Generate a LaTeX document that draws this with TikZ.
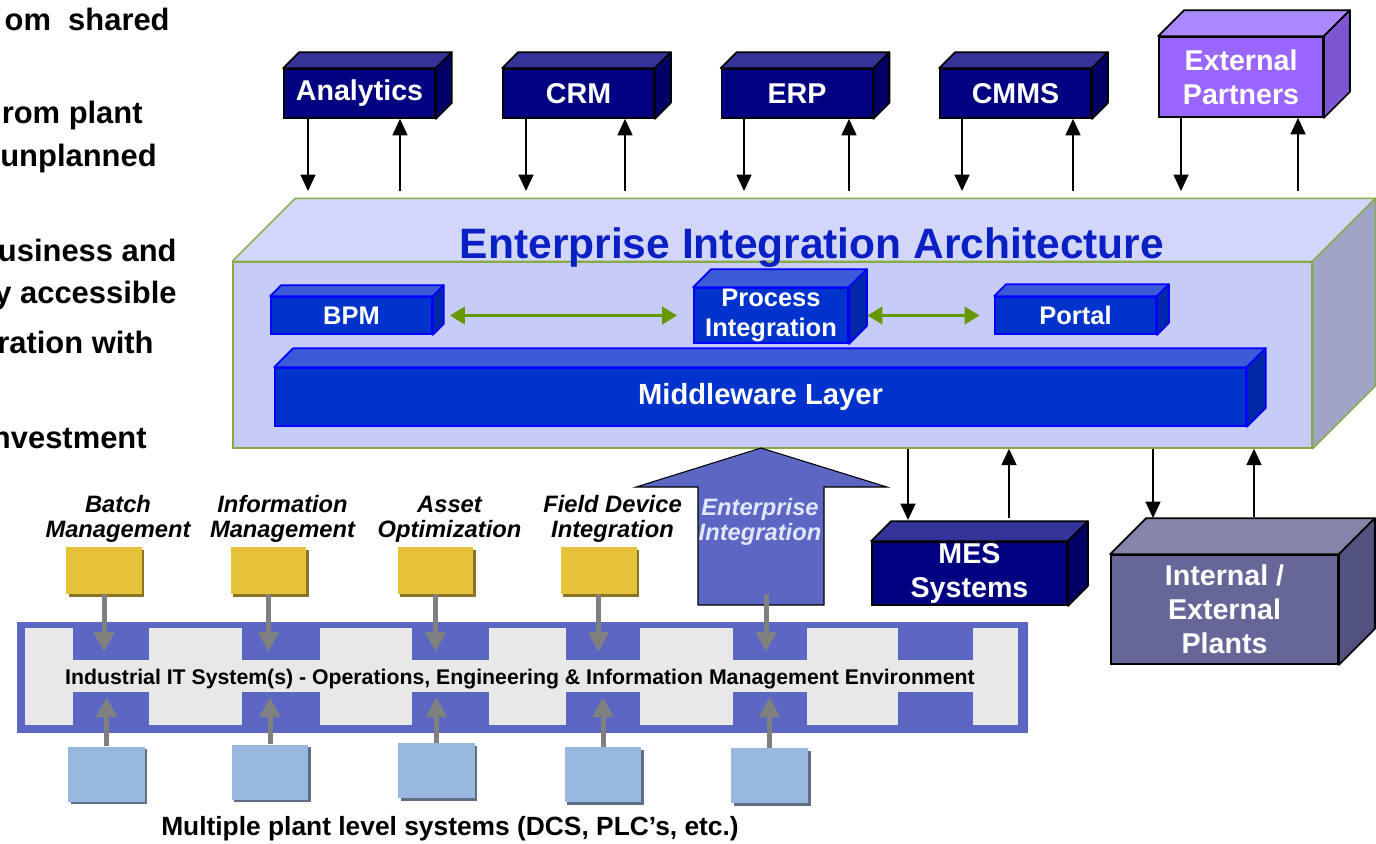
\documentclass[tikz,border=0pt]{standalone}
\usepackage{fontspec}
\setmainfont{Liberation Sans}
\usetikzlibrary{arrows.meta,positioning,shadows}

\definecolor{navy}{HTML}{000080}
\definecolor{navytop}{HTML}{333399}
\definecolor{navyside}{HTML}{000066}
\definecolor{partner}{HTML}{9966FF}
\definecolor{partnertop}{HTML}{AA88FF}
\definecolor{partnerside}{HTML}{7F55D4}
\definecolor{eiafront}{HTML}{C6CBF8}
\definecolor{eiatop}{HTML}{D2D6FA}
\definecolor{eiaside}{HTML}{A0A5C8}
\definecolor{eialine}{HTML}{88AA44}
\definecolor{titleblue}{HTML}{0A20C4}
\definecolor{inblue}{HTML}{0033CC}
\definecolor{inbluetop}{HTML}{3A5AD6}
\definecolor{inblueside}{HTML}{0028A8}
\definecolor{inblueline}{HTML}{0000FF}
\definecolor{arrowgreen}{HTML}{669900}
\definecolor{plantfront}{HTML}{666699}
\definecolor{planttop}{HTML}{8686AA}
\definecolor{plantside}{HTML}{525280}
\definecolor{bandblue}{HTML}{5C67C4}
\definecolor{bandgrey}{HTML}{E8E8E8}
\definecolor{ayellow}{HTML}{E6C13A}
\definecolor{ayellowdark}{HTML}{8B7326}
\definecolor{sqblue}{HTML}{99B8E0}
\definecolor{sqbluedark}{HTML}{5F6F85}
\definecolor{arrowgrey}{HTML}{808080}
\definecolor{eitext}{HTML}{E2E6FF}

\tikzstyle{navybox}=[draw=black, fill=navy, text=white, line width=1pt, inner sep=0pt, align=center, font=\fontsize{16.3}{19.3}\selectfont\bfseries]
\tikzstyle{inbox}=[draw=inblueline, fill=inblue, text=white, line width=1pt, inner sep=0pt, align=center, font=\fontsize{14.5}{17}\selectfont\bfseries]
\tikzstyle{ybox}=[fill=ayellow, minimum width=1.52cm, minimum height=0.94cm, inner sep=0pt, general shadow={fill=ayellowdark, shadow xshift=0.05cm, shadow yshift=-0.05cm}]
\tikzstyle{sqbox}=[fill=sqblue, minimum width=1.54cm, minimum height=1.1cm, inner sep=0pt, general shadow={fill=sqbluedark, shadow xshift=0.05cm, shadow yshift=-0.05cm}]
\tikzstyle{lbl}=[inner sep=0pt, align=center, font=\fontsize{13.5}{14.2}\selectfont\bfseries\itshape]
\tikzstyle{slidetxt}=[inner sep=0pt, anchor=base east, font=\fontsize{17.6}{20}\selectfont\bfseries]
\tikzstyle{blkarrow}=[-{Triangle[width=0.3cm,length=0.33cm]}, color=black, line width=1pt]
\tikzstyle{grnarrow}=[{Triangle[width=0.34cm,length=0.3cm]}-{Triangle[width=0.34cm,length=0.3cm]}, color=arrowgreen, line width=2.2pt]
\tikzstyle{greyarrow}=[-{Triangle[width=0.4cm,length=0.4cm]}, color=arrowgrey, line width=0.1cm]

\newcommand{\cubeside}[5]{%
  \draw[#5, fill=#3, line join=round] (#1.north west) -- ++(#2,-#2) -- ([shift={(#2,-#2)}]#1.north east) -- (#1.north east) -- cycle;
  \draw[#5, fill=#4, line join=round] (#1.north east) -- ++(#2,-#2) -- ([shift={(#2,-#2)}]#1.south east) -- (#1.south east) -- cycle;
}

\begin{document}
\begin{tikzpicture}[x=0.02cm, y=-0.02cm]
	\useasboundingbox (0,0) rectangle (1376,843);

	\begin{scope}
		\node (s1) at (170,30) [slidetxt] {om\ \ shared};
		\node (s2) at (143,123) [slidetxt] {rom plant};
		\node (s3) at (157,166) [slidetxt] {unplanned};
		\node (s4) at (177,261) [slidetxt] {usiness and};
		\node (s5) at (177,303) [slidetxt] {y accessible};
		\node (s6) at (154,353) [slidetxt] {ration with};
		\node (s7) at (147,448) [slidetxt] {nvestment};
	\end{scope}

	\begin{scope}
		\foreach \n/\x/\t in {an/359.5/Analytics, crm/578.5/CRM, erp/797/ERP, cmms/1015.5/CMMS} {
			\node (\n) at (\x,93.5) [navybox, minimum width=3.02cm, minimum height=0.98cm] {\t};
			\cubeside{\n}{16}{navytop}{navyside}{draw=black, line width=1pt}
		}
		\node (ext) at (1241,77) [navybox, fill=partner, minimum width=3.28cm, minimum height=1.6cm] {External\\Partners};
		\cubeside{ext}{26}{partnertop}{partnerside}{draw=black, line width=1pt}
	\end{scope}

	\begin{scope}
		\node (eia) at (772.5,355) [draw=eialine, fill=eiafront, line width=0.8pt, minimum width=21.58cm, minimum height=3.72cm] {};
		\cubeside{eia}{63}{eiatop}{eiaside}{draw=eialine, line width=0.8pt}
		\node (title) at (812,258) [anchor=base, inner sep=0pt, text=titleblue, font=\fontsize{24.2}{28}\selectfont\bfseries] {Enterprise Integration Architecture};

		\node (bpm) at (351.5,315.5) [inbox, minimum width=3.22cm, minimum height=0.74cm] {BPM};
		\cubeside{bpm}{11}{inbluetop}{inblueside}{draw=inblueline, line width=1pt}
		\node (pi) at (771,315.5) [inbox, minimum width=3.08cm, minimum height=1.1cm] {Process\\Integration};
		\cubeside{pi}{18}{inbluetop}{inblueside}{draw=inblueline, line width=1pt}
		\node (portal) at (1075.5,315.5) [inbox, minimum width=3.22cm, minimum height=0.74cm] {Portal};
		\cubeside{portal}{12}{inbluetop}{inblueside}{draw=inblueline, line width=1pt}
		\node (mw) at (760.5,397) [inbox, minimum width=19.42cm, minimum height=1.16cm, font=\fontsize{16.6}{19}\selectfont\bfseries] {Middleware Layer};
		\cubeside{mw}{19}{inbluetop}{inblueside}{draw=inblueline, line width=1pt}
	\end{scope}

	\begin{scope}
		\path [grnarrow, shorten <=0.34cm, shorten >=0.32cm] (bpm.east) edge (pi.west);
		\path [grnarrow, shorten <=0.37cm, shorten >=0.29cm] (pi.east) edge (portal.west);
		\foreach \n/\d/\u in {an/308/400, crm/526/625, erp/744/849, cmms/962/1073, ext/1181/1298} {
			\coordinate (d\n) at (\d,191);
			\coordinate (u\n) at (\u,191);
			\path [blkarrow] (\n.south -| d\n) edge (d\n);
			\path [blkarrow] (u\n) edge (\n.south -| u\n);
		}
	\end{scope}

	\begin{scope}
		\node (mes) at (969.5,573.5) [navybox, minimum width=3.9cm, minimum height=1.26cm] {MES\\Systems};
		\cubeside{mes}{20}{navytop}{navyside}{draw=black, line width=1pt}
		\node (plants) at (1224.5,609.5) [navybox, fill=plantfront, minimum width=4.54cm, minimum height=2.18cm] {Internal /\\External\\Plants};
		\cubeside{plants}{36}{planttop}{plantside}{draw=black, line width=1pt}
		\coordinate (m1) at (908,520);
		\coordinate (m2) at (1009,518);
		\coordinate (p1) at (1153,518);
		\coordinate (p2) at (1254,517);
		\path [blkarrow] (eia.south -| m1) edge (m1);
		\path [blkarrow] (m2) edge (eia.south -| m2);
		\path [blkarrow] (eia.south -| p1) edge (p1);
		\path [blkarrow] (p2) edge (eia.south -| p2);
	\end{scope}

	\begin{scope}
		\fill [bandblue] (17,622) rectangle (1028,733);
		\fill [bandgrey] (25,660) rectangle (1018,692);
		\foreach \a/\b in {25/73, 149/242, 320/412, 489/566, 640/733, 807/898, 973/1018}
			\fill [bandgrey] (\a,628) rectangle (\b,725);
		\node (itsys) at (520,679) [inner sep=0pt, font=\fontsize{12.1}{14}\selectfont\bfseries] {Industrial IT System(s) - Operations, Engineering \& Information Management Environment};
	\end{scope}

	\begin{scope}
		\draw [fill=bandblue, line width=0.6pt] (698,605) -- (698,487) -- (636,487) -- (761,448) -- (887,487) -- (824,487) -- (824,605) -- cycle;
		\node (eitx) at (760,522) [lbl, text=eitext] {Enterprise\\Integration};
		\coordinate (e5) at (766,594);
		\coordinate (t5) at (766,652);
		\path [greyarrow] (e5) edge (t5);
	\end{scope}

	\begin{scope}
		\foreach \i/\x/\t in {1/104/{Batch\\Management}, 2/268.5/{Information\\Management}, 3/435.5/{Asset\\Optimization}, 4/598.5/{Field Device\\Integration}} {
			\node (y\i) at (\x,570.5) [ybox] {};
			\node (l\i) [lbl, above=0.07cm of y\i, xshift=0.28cm] {\t};
			\coordinate (t\i) at (\x,652);
			\path [greyarrow] (y\i) edge (t\i);
		}
		\foreach \i/\x/\y in {1/106.5/774, 2/270/772, 3/436.5/770.5, 4/603/774.5, 5/769.5/775.5} {
			\node (q\i) at (\x,\y) [sqbox] {};
			\coordinate (b\i) at (\x,697);
			\path [greyarrow] (q\i) edge (b\i);
		}
		\node (plv) at (450,829) [inner sep=0pt, font=\fontsize{15}{17}\selectfont\bfseries] {Multiple plant level systems (DCS, PLC’s, etc.)};
	\end{scope}
\end{tikzpicture}
\end{document}
